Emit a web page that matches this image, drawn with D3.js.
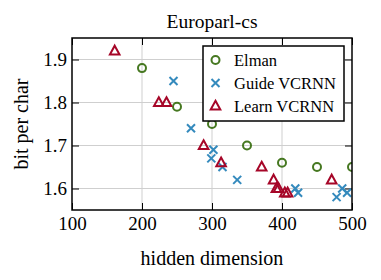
<!DOCTYPE html>
<html>
<head>
    <title></title>
    <style>
        body {
            margin: 0;
            background: #fff;
        }
        text {
            font-family: "Liberation Serif", "Times New Roman", serif;
            fill: #000;
        }
        .grid line {
            stroke: #cfcfcf;
            stroke-width: 1px;
        }
        .tick line {
            stroke: #000;
            stroke-width: 1px;
        }
        .frame {
            fill: none;
            stroke: #000;
            stroke-width: 1.5px;
        }
    </style>
</head>
<body>
<script src="https://d3js.org/d3.v7.min.js"></script>
<script>
    var width = 381;
    var height = 280;
    var margin = {left: 72, right: 29, top: 38, bottom: 70};

    var xTicks = [100, 200, 300, 400, 500];
    var yTicks = [1.6, 1.7, 1.8, 1.9];
    var seriesNames = ["Elman", "Guide VCRNN", "Learn VCRNN"];
    var colors = ["#467821", "#348ABD", "#A60628"];

    var elmanX = [200, 250, 300, 350, 400, 450, 500];
    var elmanY = [1.88, 1.79, 1.75, 1.70, 1.66, 1.65, 1.65];

    var guideX = [245, 270, 299, 302, 315, 336, 419, 423, 478, 486, 493];
    var guideY = [1.85, 1.74, 1.67, 1.69, 1.65, 1.62, 1.60, 1.59, 1.58, 1.60, 1.59];

    var learnX = [161, 224, 235, 288, 313, 371, 388, 392, 395, 404, 408, 471];
    var learnY = [1.92, 1.80, 1.80, 1.70, 1.66, 1.65, 1.62, 1.60, 1.60, 1.59, 1.59, 1.62];

    var x = d3.scaleLinear().domain([100, 500]).range([margin.left, width - margin.right]);
    var y = d3.scaleLinear().domain([1.55, 1.95]).range([height - margin.bottom, margin.top]);

    var svg = d3.select("body").append("svg")
            .attr("width", width)
            .attr("height", height);

    // grid
    var grid = svg.append("g").attr("class", "grid");
    grid.selectAll(".gx").data(xTicks.slice(1, -1)).enter().append("line")
            .attr("x1", function(d) {return x(d);}).attr("x2", function(d) {return x(d);})
            .attr("y1", y(1.95)).attr("y2", y(1.55));
    grid.selectAll(".gy").data(yTicks).enter().append("line")
            .attr("x1", x(100)).attr("x2", x(500))
            .attr("y1", function(d) {return y(d);}).attr("y2", function(d) {return y(d);});

    // axes, ticks inside on all four sides
    var tickLen = 7;
    svg.append("g").attr("transform", "translate(0," + y(1.55) + ")")
            .call(d3.axisBottom(x).tickValues(xTicks).tickSize(-tickLen).tickPadding(7).tickFormat(d3.format("d")))
            .call(function(g) {g.select(".domain").remove();})
            .selectAll("text").style("font-size", "19px").style("font-family", "Liberation Serif");
    svg.append("g").attr("transform", "translate(0," + y(1.95) + ")")
            .call(d3.axisTop(x).tickValues(xTicks).tickSize(-tickLen).tickFormat(""))
            .call(function(g) {g.select(".domain").remove();});
    svg.append("g").attr("transform", "translate(" + x(100) + ",0)")
            .call(d3.axisLeft(y).tickValues(yTicks).tickSize(-tickLen).tickPadding(5).tickFormat(d3.format(".1f")))
            .call(function(g) {g.select(".domain").remove();})
            .selectAll("text").style("font-size", "19px").style("font-family", "Liberation Serif");
    svg.append("g").attr("transform", "translate(" + x(500) + ",0)")
            .call(d3.axisRight(y).tickValues(yTicks).tickSize(-tickLen).tickFormat(""))
            .call(function(g) {g.select(".domain").remove();});

    // data
    svg.append("clipPath").attr("id", "plot").append("rect")
            .attr("x", x(100)).attr("y", y(1.95))
            .attr("width", x(500) - x(100)).attr("height", y(1.55) - y(1.95));
    var plot = svg.append("g").attr("clip-path", "url(#plot)");

    function zip(xs, ys) {
        return xs.map(function(v, i) {return [v, ys[i]];});
    }
    var circle = "M4,0A4,4 0 1,1 -4,0A4,4 0 1,1 4,0Z";
    var cross = "M-4,-4L4,4M-4,4L4,-4";
    var tri = "M0,-5.2L4.8,3.6L-4.8,3.6Z";
    var shapes = [circle, cross, tri];
    var series = [zip(elmanX, elmanY), zip(guideX, guideY), zip(learnX, learnY)];

    series.forEach(function(pts, k) {
        plot.selectAll(".s" + k).data(pts).enter().append("path")
                .attr("d", shapes[k])
                .attr("transform", function(d) {return "translate(" + x(d[0]) + "," + y(d[1]) + ")";})
                .attr("fill", "none")
                .attr("stroke", colors[k])
                .attr("stroke-width", 2);
    });

    // frame
    svg.append("rect").attr("class", "frame")
            .attr("x", x(100)).attr("y", y(1.95))
            .attr("width", x(500) - x(100)).attr("height", y(1.55) - y(1.95));

    // legend
    var legend = svg.append("g").attr("transform", "translate(203,46)");
    legend.append("rect").attr("class", "frame").style("fill", "#fff")
            .attr("width", 141).attr("height", 75);
    seriesNames.forEach(function(name, k) {
        var row = legend.append("g").attr("transform", "translate(12.5," + (14 + k * 23) + ")");
        row.append("path").attr("d", shapes[k]).attr("fill", "none")
                .attr("stroke", colors[k]).attr("stroke-width", 2);
        row.append("text").attr("x", 18.5).attr("dy", "0.35em")
                .style("font-size", "16.5px").text(name);
    });

    // titles
    svg.append("text").attr("x", (x(100) + x(500)) / 2).attr("y", 28)
            .attr("text-anchor", "middle").style("font-size", "19.5px").text("Europarl-cs");
    svg.append("text").attr("x", (x(100) + x(500)) / 2).attr("y", 265)
            .attr("text-anchor", "middle").style("font-size", "20px").text("hidden dimension");
    svg.append("text").attr("transform", "translate(28," + ((y(1.95) + y(1.55)) / 2) + ")rotate(-90)")
            .attr("text-anchor", "middle").style("font-size", "20px").text("bit per char");
</script>
</body>
</html>
